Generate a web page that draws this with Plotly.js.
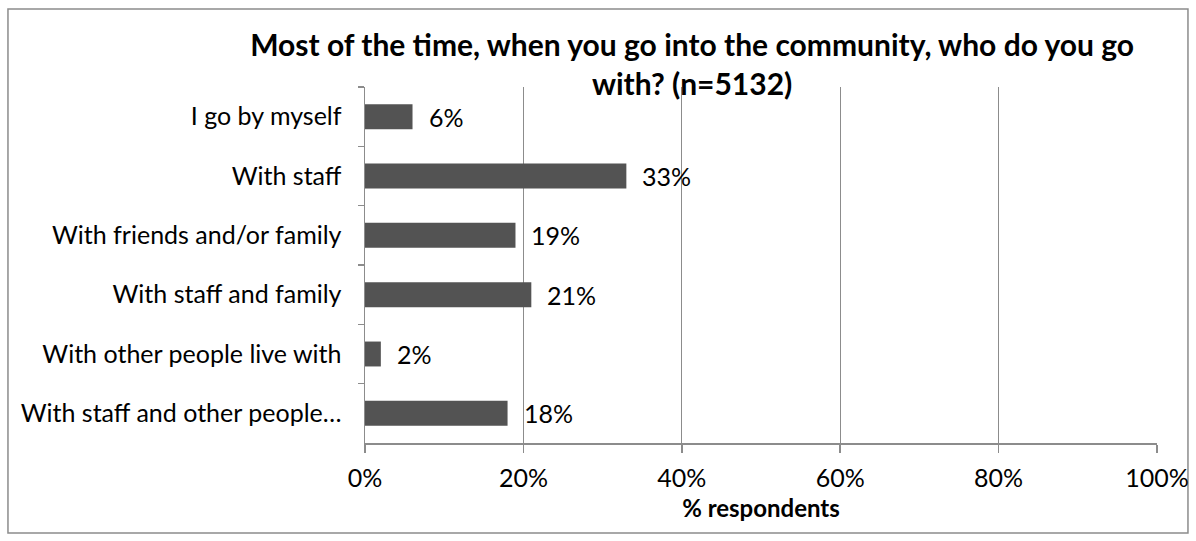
<!DOCTYPE html>
<html>
<head>
<meta charset="utf-8">
<script src="https://cdn.plot.ly/plotly-3.0.1.min.js"></script>
<style>
  html, body { margin: 0; padding: 0; background: #ffffff; }
  #chart { width: 1196px; height: 541px; }
</style>
</head>
<body>
<div id="chart"></div>
<script>
var categories = [
  "I go by myself",
  "With staff",
  "With friends and/or family",
  "With staff and family",
  "With other people live with",
  "With staff and other people…"
];
var values = [6, 33, 19, 21, 2, 18];
var xTickValues = [0, 20, 40, 60, 80, 100];
var xTickLabels = ["0%", "20%", "40%", "60%", "80%", "100%"];
var titleText = "Most of the time, when you go into the community, who do you go<br>with? (n=5132)";
var xAxisTitle = "% respondents";

var FONT = "Lato, 'Open Sans', sans-serif";
var GRAY = "#8c8c8c";
var FS = 25;

var trace = {
  type: "bar",
  orientation: "h",
  y: categories,
  x: values,
  marker: { color: "#535353", line: { width: 0 } },
  hoverinfo: "skip"
};

var annotations = values.map(function (v, i) {
  return {
    x: v, y: categories[i], xref: "x", yref: "y",
    text: v + "%", showarrow: false,
    xanchor: "left", yanchor: "middle", xshift: 14,
    font: { family: FONT, size: FS, color: "#000000" }
  };
});

var layout = {
  width: 1196, height: 541,
  margin: { l: 365, r: 39, t: 87, b: 98 },
  paper_bgcolor: "#ffffff",
  plot_bgcolor: "#ffffff",
  showlegend: false,
  bargap: 0.58,
  font: { family: FONT, size: FS, color: "#000000" },
  title: {
    text: "<b>" + titleText + "</b>",
    font: { family: FONT, size: 30, color: "#000000" },
    x: 0.413, xref: "paper", xanchor: "center",
    y: 0.897, yref: "container", yanchor: "middle"
  },
  xaxis: {
    range: [0, 100],
    tickvals: xTickValues,
    ticktext: xTickLabels,
    showgrid: true, gridcolor: GRAY, gridwidth: 1,
    zeroline: false,
    showline: true, linecolor: GRAY, linewidth: 1.5,
    ticks: "outside", ticklen: 8, tickcolor: GRAY, tickwidth: 1.5,
    ticklabelstandoff: 4,
    tickfont: { family: FONT, size: FS, color: "#000000" },
    title: { text: "<b>" + xAxisTitle + "</b>", font: { family: FONT, size: 24, color: "#000000" }, standoff: 9 },
    fixedrange: true
  },
  yaxis: {
    type: "category",
    autorange: "reversed",
    showgrid: false, zeroline: false,
    showline: true, linecolor: GRAY, linewidth: 1.5,
    ticks: "outside", ticklen: 6, tickcolor: GRAY, tickwidth: 1.5,
    tickson: "boundaries",
    ticklabelstandoff: 17,
    tickfont: { family: FONT, size: FS, color: "#000000" },
    fixedrange: true
  },
  annotations: annotations,
  shapes: [{
    type: "rect", xref: "paper", yref: "paper",
    x0: -0.4508, x1: 1.0391, y0: -0.2528, y1: 1.2191,
    line: { color: "#8c8c8c", width: 1.5 }, fillcolor: "rgba(0,0,0,0)", layer: "below"
  }]
};

Plotly.newPlot("chart", [trace], layout, { displayModeBar: false, staticPlot: true });
</script>
</body>
</html>
